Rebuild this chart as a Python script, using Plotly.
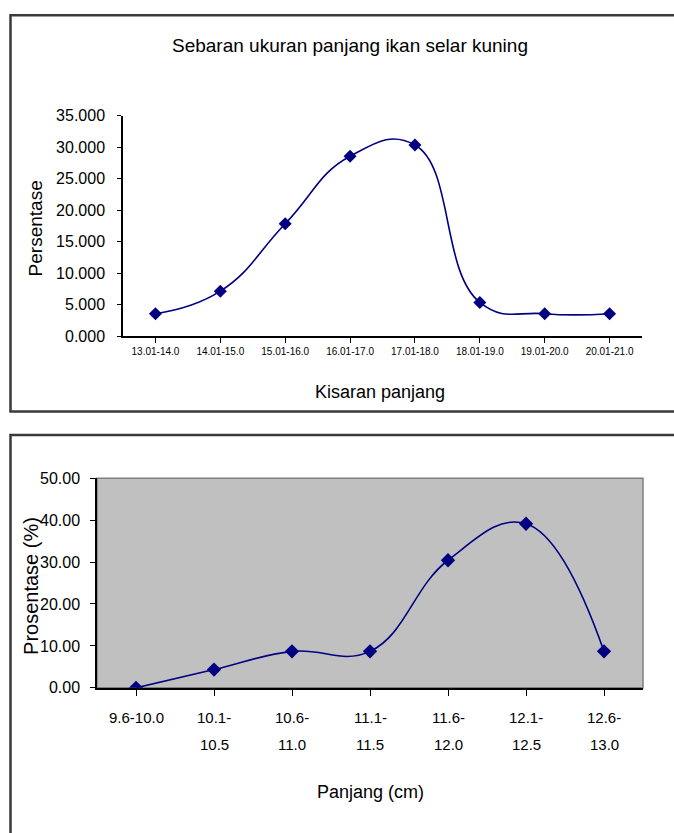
import plotly.graph_objects as go

# --- Panel 1: Sebaran ukuran panjang ikan selar kuning ---
top_categories = ["13.01-14.0", "14.01-15.0", "15.01-16.0", "16.01-17.0",
                  "17.01-18.0", "18.01-19.0", "19.01-20.0", "20.01-21.0"]
top_values = [3.571, 7.143, 17.857, 28.571, 30.357, 5.357, 3.571, 3.571]

# --- Panel 2: Prosentase per kelas panjang ---
bottom_categories = ["9.6-10.0", "10.1-<br>10.5", "10.6-<br>11.0", "11.1-<br>11.5",
                     "11.6-<br>12.0", "12.1-<br>12.5", "12.6-<br>13.0"]
bottom_values = [0.0, 4.35, 8.70, 8.70, 30.43, 39.13, 8.70]

W, H = 674, 833
FONT = "Liberation Sans, Arial, sans-serif"
NAVY = "#000080"


def px_x(x):
    return x / W


def px_y(y):
    return 1 - y / H


fig = go.Figure()

fig.add_trace(go.Scatter(
    x=list(range(len(top_categories))), y=top_values,
    mode="lines+markers",
    line=dict(color=NAVY, width=1.6, shape="spline", smoothing=1.3),
    marker=dict(symbol="diamond", size=10, color=NAVY),
    xaxis="x", yaxis="y", showlegend=False, hoverinfo="y",
))

fig.add_trace(go.Scatter(
    x=list(range(len(bottom_categories))), y=bottom_values,
    mode="lines+markers",
    line=dict(color=NAVY, width=1.6, shape="spline", smoothing=1.2),
    marker=dict(symbol="diamond", size=11, color=NAVY),
    xaxis="x2", yaxis="y2", showlegend=False, hoverinfo="y",
))

axis_common = dict(showgrid=False, zeroline=False, showline=True,
                   linecolor="black", linewidth=1.5, ticks="outside",
                   tickcolor="black", fixedrange=True)

fig.update_layout(
    width=W, height=H,
    margin=dict(l=0, r=0, t=0, b=0),
    paper_bgcolor="white", plot_bgcolor="rgba(0,0,0,0)",
    font=dict(family=FONT, color="black"),
    xaxis=dict(
        domain=[px_x(123), px_x(642)], anchor="y",
        range=[-0.5, len(top_categories) - 0.5],
        tickmode="array", tickvals=list(range(len(top_categories))),
        ticktext=top_categories, tickson="boundaries",
        ticklen=5, tickfont=dict(size=10), **axis_common,
    ),
    yaxis=dict(
        domain=[px_y(335), px_y(110)], anchor="x",
        range=[0, 35], dtick=5, tickformat=".3f",
        ticklen=4, tickfont=dict(size=16), ticklabelstandoff=9,
        **axis_common,
    ),
    xaxis2=dict(
        domain=[px_x(97), px_x(643)], anchor="y2",
        range=[-0.5, len(bottom_categories) - 0.5],
        tickmode="array", tickvals=list(range(len(bottom_categories))),
        ticktext=bottom_categories, tickson="boundaries",
        showticklabels=False, ticklen=6, **axis_common,
    ),
    yaxis2=dict(
        domain=[px_y(694), px_y(480)], anchor="x2",
        range=[0, 50], dtick=10, tickformat=".2f",
        ticklen=5, tickfont=dict(size=16), ticklabelstandoff=7,
        **axis_common,
    ),
)

shapes = [
    # outer frames of both panels
    dict(type="rect", xref="paper", yref="paper",
         x0=px_x(10.5), x1=1.05, y0=px_y(412), y1=px_y(7.5),
         line=dict(color="#3a3a3a", width=2.5), fillcolor="rgba(0,0,0,0)"),
    dict(type="rect", xref="paper", yref="paper",
         x0=px_x(10.5), x1=1.05, y0=-0.05, y1=px_y(436),
         line=dict(color="#3a3a3a", width=2.5), fillcolor="rgba(0,0,0,0)"),
    # grey plot area of the second panel
    dict(type="rect", xref="x2 domain", yref="y2 domain",
         x0=0, x1=1, y0=0, y1=1, layer="below",
         line=dict(color="#808080", width=1.5), fillcolor="#C0C0C0"),
]


def label(text, x, y, size, angle=0, xref="paper"):
    return dict(text=text, x=x, y=y, xref=xref, yref="paper",
                xanchor="center", yanchor="middle", textangle=angle,
                showarrow=False, font=dict(size=size))


annotations = [
    label("Sebaran ukuran panjang ikan selar kuning", px_x(350), px_y(38), 19),
    label("Persentase", px_x(35), px_y(225), 19, angle=-90),
    label("Kisaran panjang", px_x(380), px_y(392), 18),
    label("Prosentase (%)", px_x(31), px_y(590), 20, angle=-90),
    label("Panjang (cm)", px_x(370), px_y(800), 18),
]

# wrapped category labels of the second panel, one line per annotation
for i, cat in enumerate(bottom_categories):
    for j, line in enumerate(cat.split("<br>")):
        annotations.append(label(line, i, px_y(724 + 28 * j), 15, xref="x2"))

fig.update_layout(shapes=shapes, annotations=annotations)

fig.write_html("out.html")
